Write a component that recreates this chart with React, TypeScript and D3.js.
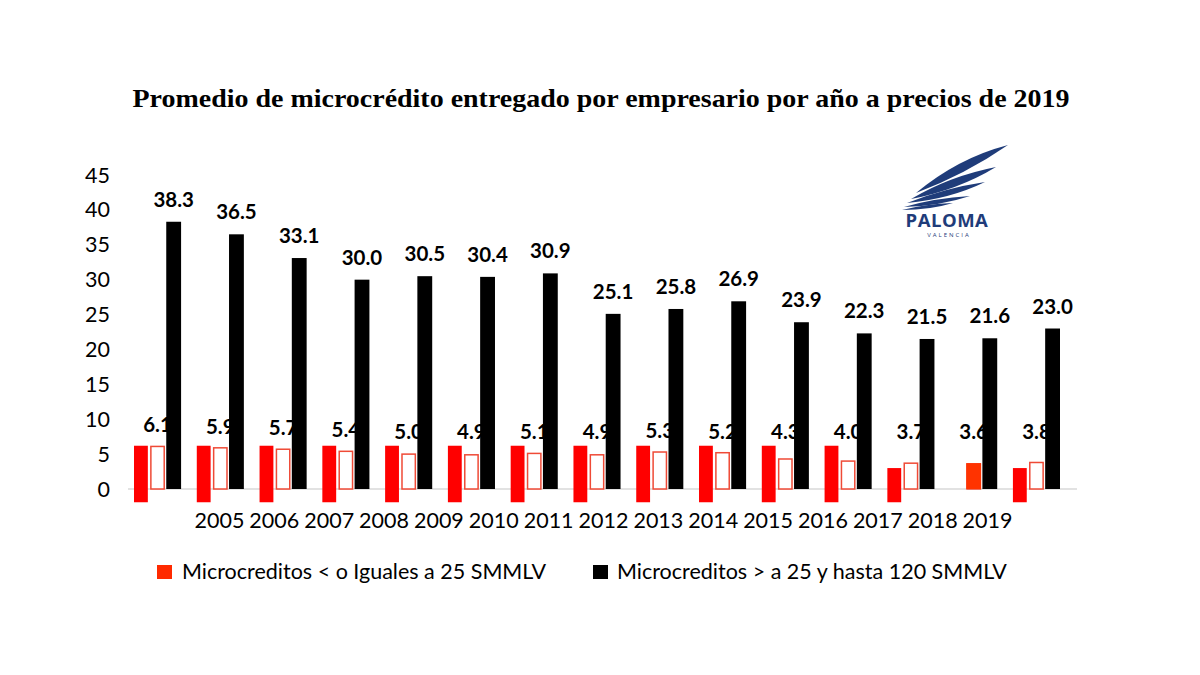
import React from 'react';
import * as d3 from 'd3';

const years = ['2005', '2006', '2007', '2008', '2009', '2010', '2011', '2012', '2013', '2014', '2015', '2016', '2017', '2018', '2019'];
const smallValues = [6.1, 5.9, 5.7, 5.4, 5.0, 4.9, 5.1, 4.9, 5.3, 5.2, 4.3, 4.0, 3.7, 3.6, 3.8];
const largeValues = [38.3, 36.5, 33.1, 30.0, 30.5, 30.4, 30.9, 25.1, 25.8, 26.9, 23.9, 22.3, 21.5, 21.6, 23.0];
// red patches pasted over the chart (top / bottom values)
const patchTop = [6.2, 6.2, 6.2, 6.2, 6.2, 6.2, 6.2, 6.2, 6.2, 6.2, 6.2, 6.2, 3.0, null, 3.0];
const patchBottom = [-1.9, -1.9, -1.9, -1.9, -1.9, -1.9, -1.9, -1.9, -1.9, -1.9, -1.9, -1.9, -1.9, null, -1.9];
const overPatch = [null, null, null, null, null, null, null, null, null, null, null, null, null, 3.7, null];
const yTicks = [0, 5, 10, 15, 20, 25, 30, 35, 40, 45];

const title = 'Promedio de microcrédito entregado por empresario por año a precios de 2019';
const legendSmall = 'Microcreditos < o Iguales a 25 SMMLV';
const legendLarge = 'Microcreditos > a 25 y hasta 120 SMMLV';

const W = 1200;
const H = 675;
const numFont = 'Lato, "Open Sans", sans-serif';

const App: React.FC = () => {
  const y = d3.scaleLinear().domain([0, 45]).range([489, 175]);

  const x = d3.scaleBand<string>().domain(years).range([134, 1060]).paddingInner(0.25).paddingOuter(0);
  const sub = d3
    .scaleBand<string>()
    .domain(['patch', 'small', 'large'])
    .range([0, x.bandwidth()])
    .paddingInner(0.08);
  // year labels were typed as one line, not aligned to the groups
  const xl = d3.scaleBand<string>().domain(years).range([192, 1015]);

  const bw = sub.bandwidth();

  return (
    <svg
      width={W}
      height={H}
      style={{ position: 'absolute', left: 0, top: 0, background: '#fff' }}
    >
      <rect width={W} height={H} fill="#fff" />
      <text
        x={601}
        y={107}
        textAnchor="middle"
        fontFamily='"Liberation Serif", serif'
        fontWeight="bold"
        fontSize={26}
        textLength={937}
        lengthAdjust="spacingAndGlyphs"
      >
        {title}
      </text>

      {/* y axis labels */}
      <g fontFamily={numFont} fontSize={21.5} fill="#000">
        {yTicks.map((t) => (
          <text key={t} x={110} y={y(t)} dy="0.35em" textAnchor="end">
            {t}
          </text>
        ))}
      </g>

      <line x1={128} x2={1077} y1={y(0)} y2={y(0)} stroke="#d9d9d9" strokeWidth={1.5} />

      {/* small-credit bars and labels */}
      {years.map((yr, i) => {
        const x0 = x(yr)! + sub('small')!;
        const v = smallValues[i];
        return (
          <g key={'s' + yr}>
            <rect
              x={x0 + 0.75}
              y={y(v)}
              width={bw - 1.5}
              height={y(0) - y(v)}
              fill="#fff"
              stroke="#ef4a36"
              strokeWidth={1.5}
            />
            <text
              x={x0 + bw / 2}
              y={y(Math.max(v, 5.1)) - 14}
              textAnchor="middle"
              fontFamily={numFont}
              fontWeight="bold"
              fontSize={20.5}
            >
              {v.toFixed(1)}
            </text>
          </g>
        );
      })}

      {/* patches */}
      {years.map((yr, i) => {
        const t = patchTop[i];
        const b = patchBottom[i];
        if (t === null || b === null) return null;
        return (
          <rect
            key={'p' + yr}
            x={x(yr)! + sub('patch')!}
            y={y(t)}
            width={bw - 1}
            height={y(b) - y(t)}
            fill="#ff0000"
          />
        );
      })}
      {years.map((yr, i) => {
        const t = overPatch[i];
        if (t === null) return null;
        return (
          <rect
            key={'o' + yr}
            x={x(yr)! + sub('small')!}
            y={y(t)}
            width={bw}
            height={y(0) - y(t)}
            fill="#ff3300"
          />
        );
      })}

      {/* large-credit bars and labels */}
      {years.map((yr, i) => {
        const x0 = x(yr)! + sub('large')!;
        const v = largeValues[i];
        return (
          <g key={'l' + yr}>
            <rect x={x0} y={y(v)} width={bw} height={y(0) - y(v)} fill="#000" />
            <text
              x={x0 + bw / 2}
              y={y(v) - 15}
              textAnchor="middle"
              fontFamily={numFont}
              fontWeight="bold"
              fontSize={20.5}
            >
              {v.toFixed(1)}
            </text>
          </g>
        );
      })}

      {/* year labels */}
      <g fontFamily={numFont} fontSize={21.5}>
        {years.map((yr) => (
          <text key={'x' + yr} x={xl(yr)! + xl.bandwidth() / 2} y={528} textAnchor="middle">
            {yr}
          </text>
        ))}
      </g>

      {/* legend */}
      <g fontFamily={numFont} fontSize={21.5}>
        <rect x={157} y={565} width={15} height={14} fill="#ff2a00" />
        <text x={182} y={579}>
          {legendSmall}
        </text>
        <rect x={593} y={565} width={15} height={14} fill="#000" />
        <text x={617} y={579}>
          {legendLarge}
        </text>
      </g>

      {/* logo */}
      <g fill="#1f3c7a">
        <path d="M916,193 Q958,158 1008,145 Q966,174 916,193 Z" />
        <path d="M911,199 Q950,176 996,167 Q958,190 911,199 Z" />
        <path d="M907,203 Q945,188 985,182 Q950,199 907,203 Z" />
        <path d="M904,207 Q935,198 970,196 Q940,206 904,207 Z" />
        <path d="M902,210 Q925,204 953,203 Q930,210 902,210 Z" />
        <text
          x={947}
          y={227}
          textAnchor="middle"
          fontFamily='"Open Sans", sans-serif'
          fontWeight="bold"
          fontSize={18.5}
          letterSpacing={0.5}
        >
          PALOMA
        </text>
        <text
          x={949}
          y={237}
          textAnchor="middle"
          fontFamily='"Open Sans", sans-serif'
          fontSize={6}
          letterSpacing={2}
        >
          VALENCIA
        </text>
      </g>
    </svg>
  );
};

export default App;
